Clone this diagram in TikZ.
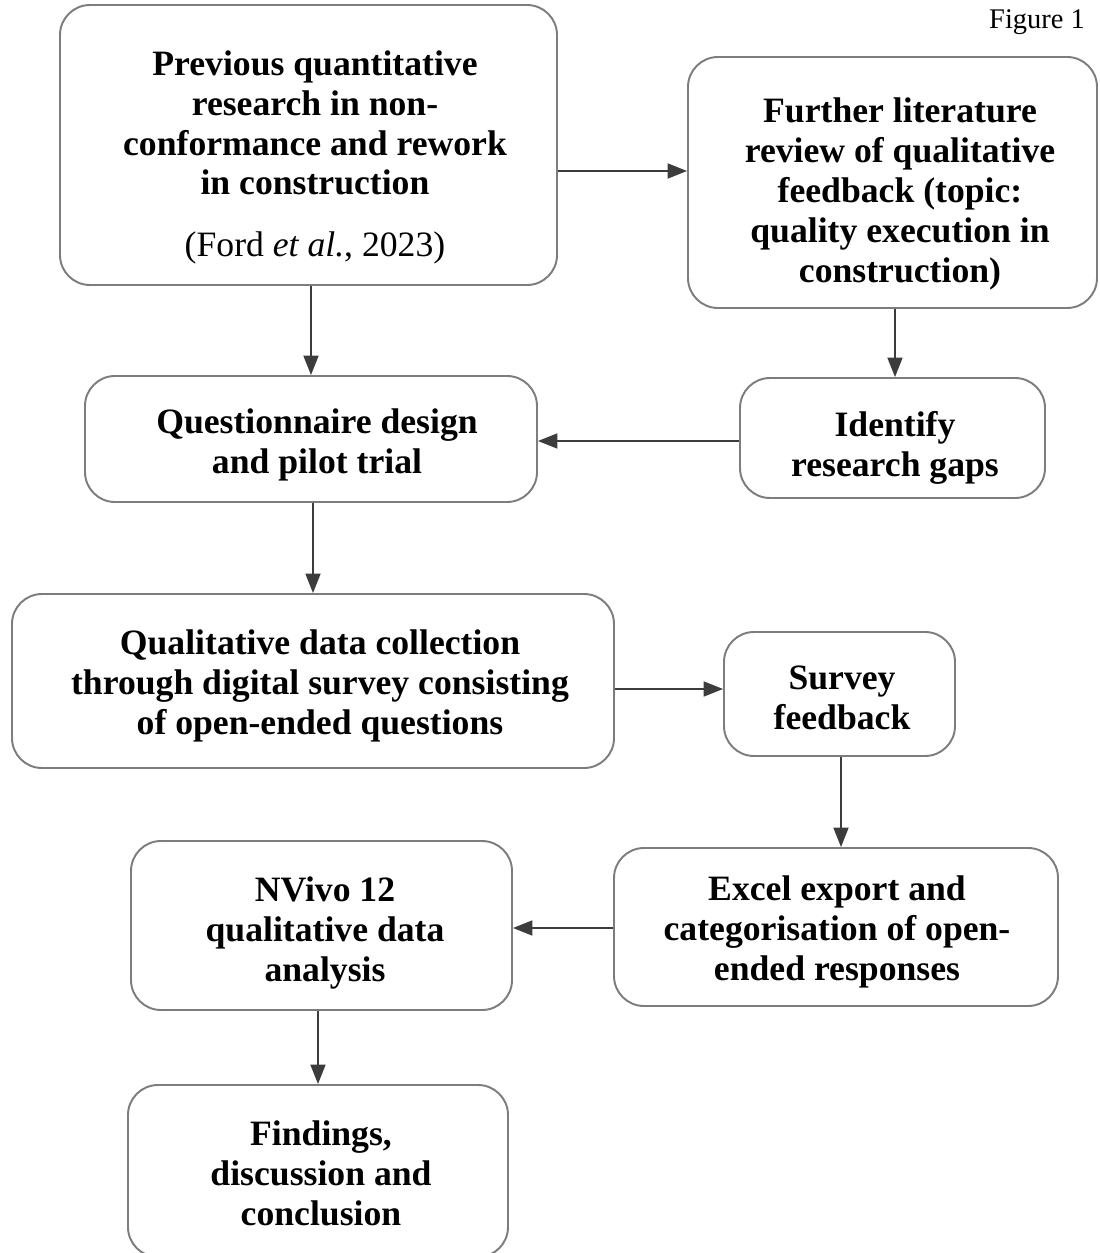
\documentclass[tikz,border=0pt]{standalone}
\usepackage{fontspec}
\setmainfont{Liberation Serif}
\usetikzlibrary{arrows.meta}
\definecolor{boxgray}{RGB}{125,125,125}
\definecolor{linegray}{RGB}{60,60,60}
\begin{document}
\begin{tikzpicture}[x=0.02cm,y=-0.02cm,
  box/.style={draw=boxgray,line width=1.1pt,rounded corners=0.6cm,inner sep=0pt},
  txt/.style={align=center,inner sep=0pt,font=\fontsize{20.3}{22.7}\selectfont\bfseries},
  arr/.style={draw=linegray,line width=0.9pt,-{Triangle[length=11pt,width=8.5pt]}}]
\useasboundingbox[fill=white] (0,0) rectangle (1099,1253);
\node[box,minimum width=497*0.02cm,minimum height=280*0.02cm] (A) at (308.5,145) {};
\node[txt] (At) at (315,123) {Previous quantitative\\research in non-\\conformance and rework\\in construction};
\node[font=\fontsize{20.3}{22.7}\selectfont,inner sep=0pt] (Ac) at (315,248) {(Ford \textit{et al.}, 2023)};
\node[box,minimum width=409*0.02cm,minimum height=251*0.02cm] (B) at (892.5,182.5) {};
\node[txt] (Bt) at (900,194) {Further literature\\review of qualitative\\feedback (topic:\\quality execution in\\construction)};
\node[box,minimum width=452*0.02cm,minimum height=126*0.02cm] (C) at (311,439) {};
\node[txt] (Ct) at (317,445) {Questionnaire design\\and pilot trial};
\node[box,minimum width=305*0.02cm,minimum height=120*0.02cm] (D) at (892.5,438) {};
\node[txt] (Dt) at (895,447.5) {Identify\\research gaps};
\node[box,minimum width=602*0.02cm,minimum height=174*0.02cm] (E) at (313,681) {};
\node[txt] (Et) at (320,686) {Qualitative data collection\\through digital survey consisting\\of open-ended questions};
\node[box,minimum width=231*0.02cm,minimum height=124*0.02cm] (F) at (839.5,694) {};
\node[txt] (Ft) at (842,698) {Survey\\feedback};
\node[box,minimum width=444*0.02cm,minimum height=158*0.02cm] (G) at (836,927) {};
\node[txt] (Gt) at (837,932) {Excel export and\\categorisation of open-\\ended responses};
\node[box,minimum width=381*0.02cm,minimum height=169*0.02cm] (H) at (321.5,925.5) {};
\node[txt] (Ht) at (325,933) {NVivo 12\\qualitative data\\analysis};
\node[box,minimum width=380*0.02cm,minimum height=172*0.02cm] (I) at (318,1171) {};
\node[txt] (It) at (321,1173) {Findings,\\discussion and\\conclusion};
\node[font=\fontsize{16.2}{19}\selectfont,inner sep=0pt] (fig) at (1037,22) {Figure 1};
\draw[arr] (A.south -| 311,0) -- (C.north -| 311,0);
\draw[arr] (A.east |- 0,171) -- (B.west |- 0,171);
\draw[arr] (B.south -| 895,0) -- (D.north -| 895,0);
\draw[arr] (D.west |- 0,441) -- (C.east |- 0,441);
\draw[arr] (C.south -| 313,0) -- (E.north -| 313,0);
\draw[arr] (E.east |- 0,689) -- (F.west |- 0,689);
\draw[arr] (F.south -| 841,0) -- (G.north -| 841,0);
\draw[arr] (G.west |- 0,928) -- (H.east |- 0,928);
\draw[arr] (H.south -| 318,0) -- (I.north -| 318,0);
\end{tikzpicture}
\end{document}
